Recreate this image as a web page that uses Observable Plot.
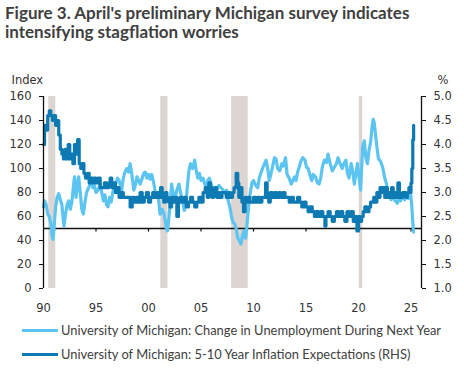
<!DOCTYPE html>
<html><head><meta charset="utf-8">
<script src="https://cdn.jsdelivr.net/npm/d3@7"></script>
<script src="https://cdn.jsdelivr.net/npm/@observablehq/plot@0.6"></script>
<style>
html,body{margin:0;padding:0;background:#fff}
body{width:464px;height:373px;overflow:hidden;position:relative}
#title{position:absolute;left:5px;top:3px;font-family:Lato;font-weight:700;font-size:17px;line-height:19px;color:#404040;white-space:nowrap}
#chart{position:absolute;left:0;top:50px}
.leg{position:absolute;left:22px;height:14px;display:flex;align-items:center;font-family:Lato;font-size:12.9px;color:#404040;white-space:nowrap}
.sw{display:inline-block;width:36px;height:3px;margin-right:3px}
</style></head>
<body>
<div id="title">Figure 3. April's preliminary Michigan survey indicates<br>intensifying stagflation worries</div>
<div id="chart"></div>
<div class="leg" style="top:323px"><span class="sw" style="background:#5bc4f1"></span>University of Michigan: Change in Unemployment During Next Year</div>
<div class="leg" style="top:347px"><span class="sw" style="background:#0e7ab3"></span>University of Michigan: 5-10 Year Inflation Expectations (RHS)</div>
<script>
// Recession periods (decimal years)
const recessionStarts = [1990.5, 2001.17, 2007.92, 2020.08];
const recessionEnds   = [1991.17, 2001.85, 2009.5, 2020.4];

// Change in Unemployment During Next Year (LHS, index)
const unempYears = [1990.0,1990.1,1990.25,1990.4,1990.55,1990.7,1990.8,1990.9,1991.0,1991.15,1991.3,1991.45,1991.6,1991.75,1991.85,1991.95,1992.1,1992.25,1992.4,1992.55,1992.7,1992.85,1992.95,1993.1,1993.25,1993.35,1993.5,1993.65,1993.8,1993.95,1994.1,1994.3,1994.5,1994.7,1994.85,1995.0,1995.2,1995.4,1995.55,1995.7,1995.85,1996.0,1996.15,1996.3,1996.45,1996.6,1996.75,1996.9,1997.05,1997.2,1997.45,1997.6,1997.8,1997.95,1998.1,1998.25,1998.4,1998.6,1998.75,1998.9,1999.05,1999.2,1999.4,1999.55,1999.7,1999.85,2000.0,2000.15,2000.3,2000.5,2000.65,2000.8,2000.95,2001.1,2001.3,2001.45,2001.6,2001.7,2001.8,2001.9,2002.05,2002.2,2002.35,2002.5,2002.7,2002.9,2003.05,2003.2,2003.4,2003.55,2003.7,2003.85,2004.0,2004.2,2004.4,2004.55,2004.7,2004.85,2005.0,2005.2,2005.35,2005.5,2005.65,2005.8,2006.0,2006.15,2006.3,2006.5,2006.7,2006.9,2007.1,2007.3,2007.45,2007.6,2007.75,2007.9,2008.05,2008.2,2008.35,2008.5,2008.65,2008.8,2008.95,2009.1,2009.25,2009.4,2009.55,2009.7,2009.85,2010.0,2010.2,2010.4,2010.55,2010.7,2010.9,2011.05,2011.2,2011.35,2011.5,2011.65,2011.8,2012.0,2012.15,2012.3,2012.5,2012.7,2012.85,2013.05,2013.2,2013.4,2013.6,2013.75,2013.9,2014.05,2014.2,2014.35,2014.55,2014.7,2014.9,2015.05,2015.2,2015.4,2015.55,2015.7,2015.9,2016.1,2016.25,2016.4,2016.55,2016.75,2016.95,2017.1,2017.3,2017.5,2017.7,2017.9,2018.05,2018.25,2018.45,2018.6,2018.8,2018.95,2019.1,2019.3,2019.45,2019.6,2019.75,2019.9,2020.05,2020.2,2020.3,2020.4,2020.55,2020.7,2020.85,2021.0,2021.15,2021.3,2021.4,2021.5,2021.6,2021.75,2021.9,2022.1,2022.3,2022.5,2022.65,2022.8,2022.95,2023.1,2023.3,2023.5,2023.7,2023.85,2024.0,2024.2,2024.4,2024.6,2024.75,2024.9,2025.0,2025.08,2025.17,2025.25];
const unempValues = [68,73,70,62,60,54,45,41,50,68,76,79,74,70,60,52,62,70,73,66,72,85,93,76,88,93,80,66,62,72,80,84,88,84,86,80,82,87,80,73,78,70,68,76,72,80,85,88,92,90,82,92,98,100,97,104,96,82,86,93,90,87,92,96,97,92,95,91,95,88,80,78,75,62,66,63,56,50,48,55,70,87,80,74,82,87,80,75,65,70,85,98,104,100,107,98,92,96,90,92,87,84,90,92,86,84,79,82,86,84,82,79,82,73,68,60,55,54,50,42,40,37,44,48,42,55,70,80,88,90,86,84,92,96,101,104,107,100,90,95,101,109,108,100,98,104,102,109,95,92,87,90,93,90,97,101,107,109,107,101,100,94,90,95,93,88,87,92,101,107,105,112,104,98,101,104,109,104,100,104,107,96,92,104,98,87,95,104,93,82,100,118,123,109,104,115,122,135,141,138,130,118,108,106,101,92,88,76,79,74,76,73,71,75,73,77,74,79,75,83,76,68,55,47];

// 5-10 Year Inflation Expectations (RHS, %)
const inflYears = [1990.0,1990.1,1990.25,1990.4,1990.55,1990.7,1990.85,1991.0,1991.15,1991.3,1991.45,1991.6,1991.75,1991.9,1992.05,1992.2,1992.35,1992.5,1992.65,1992.8,1992.95,1993.1,1993.25,1993.4,1993.55,1993.7,1993.85,1994.0,1994.2,1994.35,1994.5,1994.7,1994.85,1995.0,1995.2,1995.4,1995.6,1995.8,1996.0,1996.2,1996.35,1996.5,1996.7,1996.85,1997.0,1997.2,1997.4,1997.6,1997.8,1998.0,1998.25,1998.45,1998.65,1998.85,1999.05,1999.2,1999.4,1999.6,1999.8,2000.0,2000.2,2000.4,2000.6,2000.8,2001.0,2001.15,2001.3,2001.45,2001.6,2001.75,2001.9,2002.05,2002.2,2002.4,2002.55,2002.7,2002.85,2003.0,2003.2,2003.4,2003.6,2003.8,2004.0,2004.2,2004.4,2004.6,2004.8,2005.0,2005.2,2005.4,2005.6,2005.75,2005.9,2006.05,2006.2,2006.35,2006.5,2006.7,2006.85,2007.0,2007.2,2007.4,2007.6,2007.8,2008.0,2008.15,2008.35,2008.5,2008.6,2008.75,2008.9,2009.05,2009.2,2009.35,2009.5,2009.65,2009.8,2010.0,2010.2,2010.4,2010.6,2010.8,2011.0,2011.15,2011.3,2011.45,2011.6,2011.8,2012.0,2012.2,2012.4,2012.6,2012.8,2013.0,2013.2,2013.4,2013.6,2013.8,2014.0,2014.2,2014.4,2014.6,2014.8,2015.0,2015.2,2015.4,2015.6,2015.8,2016.0,2016.2,2016.4,2016.6,2016.8,2016.9,2017.1,2017.3,2017.5,2017.7,2017.9,2018.1,2018.3,2018.5,2018.7,2018.9,2019.1,2019.3,2019.5,2019.7,2019.85,2020.0,2020.15,2020.3,2020.45,2020.6,2020.8,2021.0,2021.15,2021.3,2021.45,2021.6,2021.75,2021.9,2022.05,2022.2,2022.35,2022.5,2022.6,2022.75,2022.9,2023.0,2023.15,2023.3,2023.45,2023.6,2023.75,2023.9,2024.05,2024.2,2024.35,2024.5,2024.65,2024.8,2024.95,2025.0,2025.08,2025.17,2025.25];
const inflValues = [4.0,4.4,4.3,4.6,4.7,4.6,4.5,4.6,4.4,4.5,4.2,3.9,3.8,3.7,3.9,3.7,4.0,3.7,3.8,3.6,4.0,3.8,4.1,3.6,3.5,3.6,3.4,3.3,3.4,3.2,3.3,3.2,3.3,3.2,3.3,3.1,3.1,3.2,3.1,3.2,3.3,3.1,3.2,3.0,3.1,2.9,3.0,2.9,2.9,2.9,2.7,2.9,2.8,2.9,2.8,3.0,2.8,2.9,3.0,2.8,2.9,3.0,2.9,3.0,2.9,3.1,2.9,2.8,3.0,2.9,2.8,2.7,2.9,2.8,2.9,2.5,2.8,2.9,2.8,2.9,2.7,2.8,2.9,2.8,2.7,2.8,2.9,2.8,3.0,3.1,2.9,3.2,3.1,2.9,3.0,3.1,2.9,3.0,2.9,3.0,3.0,2.9,3.0,2.9,3.0,3.1,3.4,3.2,2.9,3.1,2.8,2.6,2.9,2.8,2.9,2.8,2.8,2.9,2.8,2.9,2.8,2.9,2.9,3.2,2.9,2.8,3.0,2.9,3.0,2.9,3.0,2.9,3.0,2.9,2.9,2.8,2.9,2.8,2.8,2.9,2.8,2.7,2.8,2.7,2.6,2.7,2.6,2.5,2.6,2.5,2.6,2.5,2.3,2.5,2.6,2.5,2.4,2.5,2.6,2.5,2.6,2.5,2.4,2.6,2.5,2.6,2.4,2.5,2.2,2.5,2.4,2.5,2.6,2.7,2.6,2.7,2.8,2.8,2.9,2.8,3.0,2.9,3.1,3.0,3.1,2.9,3.1,2.9,3.0,2.9,3.1,2.9,3.0,2.9,3.2,2.9,2.9,3.0,3.0,2.9,3.0,3.1,3.0,3.2,3.5,4.1,4.4];

const xTicks = [1990,1995,2000,2005,2010,2015,2020,2025];
const xTickLabels = ["90","95","00","05","10","15","20","25"];
const leftTicks = [0,20,40,60,80,100,120,140,160];
const rightTickLabels = ["1.0","1.5","2.0","2.5","3.0","3.5","4.0","4.5","5.0"];

const LIGHT = "#5bc4f1", DARK = "#0e7ab3";
const recessions = recessionStarts.map((s,i)=>({start:s,end:recessionEnds[i]}));
const unemp = unempYears.map((y,i)=>({year:y,value:unempValues[i]}));
const infl = inflYears.map((y,i)=>({year:y,value:inflValues[i]}));
// map RHS % (1.0–5.0) onto LHS index scale (0–160)
const toLeft = p => (p - 1) * 40;

const plot = Plot.plot({
  width: 464, height: 270,
  marginLeft: 43, marginRight: 43, marginTop: 46, marginBottom: 32,
  x: {domain: [1990, 2026], axis: null},
  y: {domain: [0, 160], axis: null},
  style: {fontFamily: "DejaVu Sans", fontSize: "11.5px", color: "#333", background: "transparent", overflow: "visible"},
  marks: [
    Plot.rect(recessions, {x1: "start", x2: "end", fill: "#ddd5d2"}),
    Plot.ruleY([50], {stroke: "#111", strokeWidth: 1.3}),
    Plot.ruleX(xTicks.slice(1), {x: d => d, y1: 50, y2: 47, stroke: "#111", strokeWidth: 1.2}),
    Plot.line(unemp, {x: "year", y: "value", stroke: LIGHT, strokeWidth: 3.2}),
    Plot.line(infl, {x: "year", y: d => toLeft(d.value), stroke: DARK, strokeWidth: 3.2, curve: "step-after"}),
    Plot.ruleX([1990], {stroke: "#111", strokeWidth: 1.3}),
    Plot.ruleX([2026], {stroke: "#111", strokeWidth: 1.3}),
    Plot.axisY({anchor: "left", label: null, ticks: leftTicks, tickSize: 4, tickPadding: 8, tickFormat: d => String(d), stroke: "#111"}),
    Plot.axisY({anchor: "right", label: null, ticks: leftTicks, tickSize: 4, tickPadding: 8, tickFormat: d => rightTickLabels[leftTicks.indexOf(d)], stroke: "#111"}),
    Plot.axisX({anchor: "bottom", label: null, ticks: xTicks, tickSize: 0, tickPadding: 15, tickFormat: d => xTickLabels[xTicks.indexOf(d)]}),
    Plot.text(["Index"], {frameAnchor: "top-left", text: d => d, dx: -32, dy: -16, textAnchor: "start", lineAnchor: "middle", fill: "#333"}),
    Plot.text(["%"], {frameAnchor: "top-right", text: d => d, dx: 16, dy: -16, textAnchor: "start", lineAnchor: "middle", fill: "#333"})
  ]
});
document.getElementById("chart").appendChild(plot);
</script>
</body></html>
